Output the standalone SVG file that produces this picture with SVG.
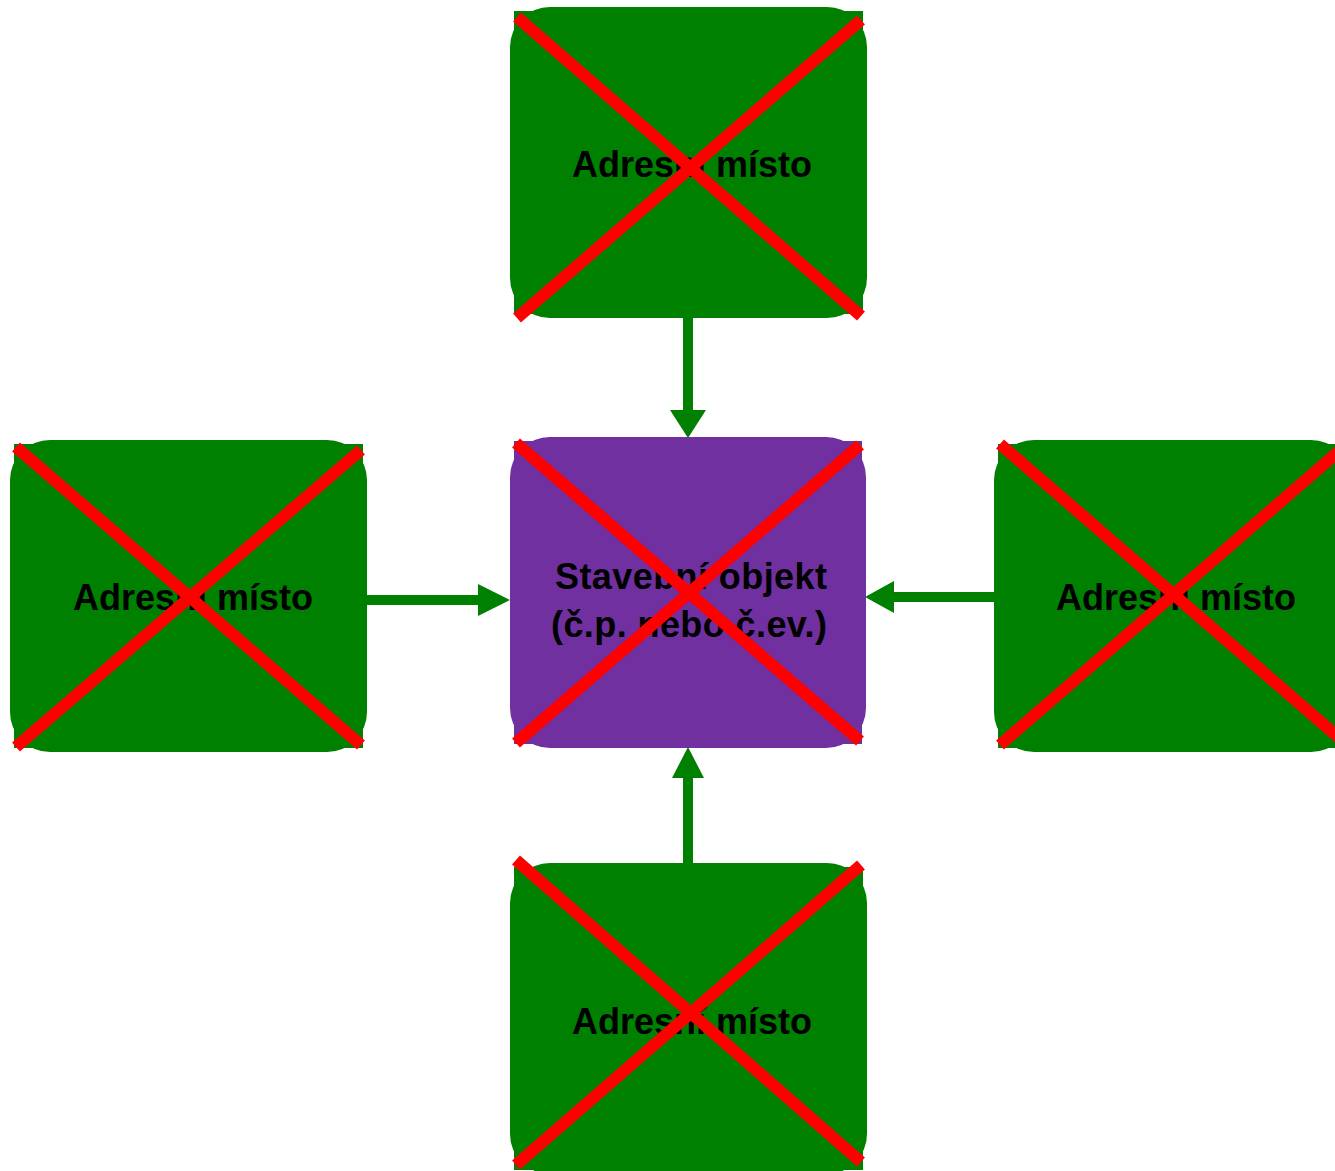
<svg xmlns="http://www.w3.org/2000/svg" width="1335" height="1171" viewBox="0 0 1335 1171">
<style>
.g{fill:#008000}
.p{fill:#7030A0}
.x{stroke:#FF0000;stroke-width:12;fill:none}
.t{font-family:"Liberation Sans",Arial,sans-serif;font-weight:bold;font-size:36px;fill:#000;text-anchor:middle}
.c{stroke:#008000;stroke-width:10;fill:none}
.h{fill:#008000}
</style>
<rect width="1335" height="1171" fill="#fff"/>
<g id="connectors">
<line class="c" x1="688" y1="318" x2="688" y2="412"/>
<polygon class="h" points="670,410 706,410 688,438"/>
<line class="c" x1="367" y1="600" x2="480" y2="600"/>
<polygon class="h" points="478,584 478,616 510,600"/>
<line class="c" x1="994" y1="597" x2="891" y2="597"/>
<polygon class="h" points="894,581 894,613 865,597"/>
<line class="c" x1="688" y1="863" x2="688" y2="776"/>
<polygon class="h" points="672,778 704,778 688,747"/>
</g>
<g id="node-top">
<rect class="g" x="510" y="7" width="357" height="311" rx="40"/>
<rect class="g" x="514" y="11" width="349" height="303"/>
<text class="t" x="692" y="177">Adresní místo</text>
<line class="x" x1="517" y1="17" x2="861" y2="316"/>
<line class="x" x1="861" y1="20" x2="517" y2="318"/>
</g>
<g id="node-left">
<rect class="g" x="10" y="440" width="357" height="312" rx="40"/>
<rect class="g" x="14" y="444" width="349" height="304"/>
<text class="t" x="193" y="610">Adresní místo</text>
<line class="x" x1="16" y1="447" x2="361" y2="745"/>
<line class="x" x1="361" y1="450" x2="16" y2="747"/>
</g>
<g id="node-center">
<rect class="p" x="510" y="437" width="356" height="311" rx="40"/>
<rect class="p" x="514" y="441" width="348" height="303"/>
<text class="t" x="691" y="589" textLength="272">Stavební objekt</text>
<text class="t" x="689" y="637" textLength="276">(č.p. nebo č.ev.)</text>
<line class="x" x1="516" y1="443" x2="860" y2="741"/>
<line class="x" x1="860" y1="445" x2="516" y2="743"/>
</g>
<g id="node-right">
<rect class="g" x="994" y="440" width="357" height="312" rx="40"/>
<rect class="g" x="998" y="444" width="349" height="304"/>
<text class="t" x="1176" y="610">Adresní místo</text>
<line class="x" x1="1000" y1="444" x2="1345" y2="743"/>
<line class="x" x1="1345" y1="446" x2="1000" y2="745"/>
</g>
<g id="node-bottom">
<rect class="g" x="510" y="863" width="357" height="311" rx="40"/>
<rect class="g" x="514" y="867" width="349" height="303"/>
<text class="t" x="692" y="1034">Adresní místo</text>
<line class="x" x1="516" y1="860" x2="861" y2="1162"/>
<line class="x" x1="861" y1="865" x2="516" y2="1165"/>
</g>
</svg>
